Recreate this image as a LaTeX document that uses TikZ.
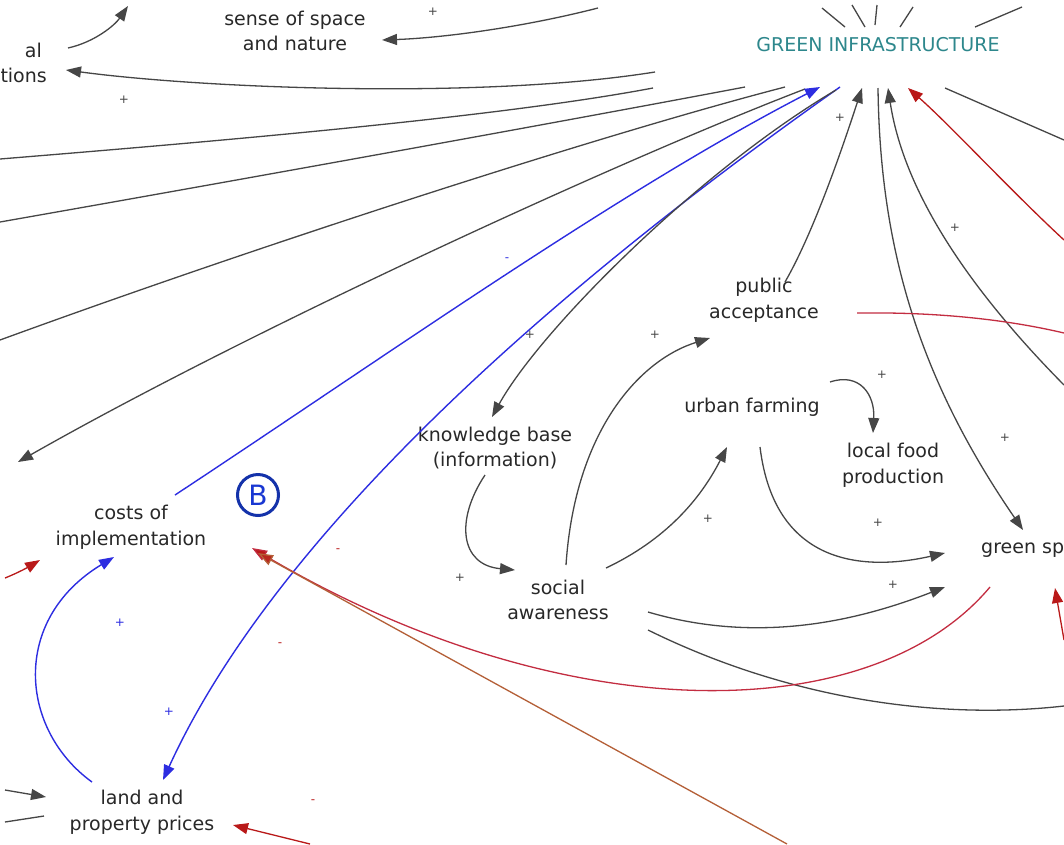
\documentclass[tikz,border=0pt]{standalone}
\usepackage{fontspec}
\setmainfont{DejaVu Sans}
\usetikzlibrary{arrows.meta,calc}
\definecolor{lg}{RGB}{70,70,70}
\definecolor{txt}{RGB}{40,40,40}
\definecolor{teal2}{RGB}{45,135,140}
\definecolor{blu}{RGB}{45,45,225}
\definecolor{redl}{RGB}{185,25,25}
\definecolor{crim}{RGB}{195,45,65}
\definecolor{brn}{RGB}{180,95,55}
\definecolor{bcirc}{RGB}{20,50,170}
\definecolor{bletter}{RGB}{25,55,210}
\tikzset{
  var/.style={font=\fontsize{19}{25.5}\selectfont, text=txt, inner sep=0pt, align=center},
  tip/.style={-{Triangle[length=15pt,width=11pt]}},
  gl/.style={draw=lg, line width=1.3pt},
  ga/.style={gl, tip},
  bl/.style={draw=blu, line width=1.4pt, tip},
  rl/.style={draw=redl, line width=1.3pt, tip},
  cl/.style={draw=crim, line width=1.3pt},
  pol/.style={font=\fontsize{12}{12}\selectfont, inner sep=0pt, text=lg},
  polb/.style={pol, text=blu},
  polr/.style={pol, text=redl}
}
\begin{document}
\begin{tikzpicture}[x=1pt,y=-1pt]
\fill[white] (0,0) rectangle (1064,844);
\useasboundingbox (0,0) rectangle (1064,844);

% variables
\node[var, text=teal2] (gi) at (878,45) {GREEN INFRASTRUCTURE};
\node[var] (sense) at (295,31) {sense of space\\and nature};
\node[var, align=right, anchor=east] (tions) at (47,63) {al\hspace*{5pt}\\tions};
\node[var] (pub) at (764,300) {public\\acceptance};
\node[var] (urb) at (752,407) {urban farming};
\node[var] (loc) at (893,465) {local food\\production};
\node[var] (kb) at (495,448) {knowledge base\\(information)};
\node[var] (costs) at (131,527) {costs of\\implementation};
\node[var] (soc) at (558,600) {social\\awareness};
\node[var, anchor=west] (green) at (981,550) {green sp};
\node[var] (land) at (142,812) {land and\\property prices};
\node[circle, draw=bcirc, line width=3pt, minimum size=41pt, inner sep=0pt,
      text=bletter, font=\fontsize{28}{28}\selectfont] (bn) at (258,495) {B};

% free ends
\coordinate (t1) at (128,6);
\coordinate (e2s) at (598,8);
\coordinate (la) at (0,159);
\coordinate (lb) at (0,222);
\coordinate (lc) at (0,340);
\coordinate (ld) at (18,462);
\coordinate (r14) at (1064,385);
\coordinate (r15) at (1064,240);
\coordinate (r16) at (1064,140);
\coordinate (r18) at (1064,333);
\coordinate (r25) at (1064,706);
\coordinate (b27) at (787,844);
\coordinate (b28) at (310,844);
\coordinate (l29) at (5,578);
\coordinate (l30) at (5,790);
\coordinate (l31) at (5,822);
\coordinate (r32) at (1064,640);
\coordinate (u1) at (822,8);
\coordinate (u2) at (852,5);
\coordinate (u3) at (877,5);
\coordinate (u4) at (913,7);
\coordinate (u5) at (1022,7);

% top radiating lines
\draw[gl] (u1) -- ($(gi)+(-33,-18)$);
\draw[gl] (u2) -- ($(gi)+(-13,-18)$);
\draw[gl] (u3) -- ($(gi)+(-3,-20)$);
\draw[gl] (u4) -- ($(gi)+(22,-18)$);
\draw[gl] (u5) -- ($(gi)+(97,-18)$);

% top-left
\draw[ga] ($(tions.east)+(21,-15)$) .. controls (95,42) and (115,25) .. (t1);
\draw[ga] (e2s) .. controls (520,28) and (440,38) .. ($(sense)+(87,9)$);
\draw[ga] ($(gi)+(-223,27)$) .. controls (480,100) and (200,88) .. ($(tions.east)+(19,7)$);

% fan of lines to the left
\draw[gl] ($(gi)+(-225,43)$) .. controls (500,117) and (220,141) .. (la);
\draw[gl] ($(gi)+(-133,42)$) .. controls (560,122) and (250,178) .. (lb);
\draw[gl] ($(gi)+(-93,42)$) .. controls (600,135) and (260,245) .. (lc);
\draw[ga] ($(gi)+(-73,44)$) .. controls (620,160) and (250,330) .. (ld);

% blue loop
\draw[bl] ($(costs)+(44,-32)$) .. controls (380,360) and (620,190) .. ($(gi)+(-58,42)$);
\draw[bl] ($(gi)+(-38,42)$) .. controls (680,200) and (300,480) .. ($(land)+(21,-32)$);
\draw[bl] ($(land)+(-50,-30)$) .. controls (20,730) and (10,620) .. ($(costs)+(-17,30)$);

% GI to knowledge base
\draw[ga] ($(gi)+(-42,45)$) .. controls (700,170) and (540,330) .. ($(kb)+(-3,-31)$);

% around GI (right)
\draw[ga] ($(pub)+(21,-18)$) .. controls (815,230) and (845,140) .. ($(gi)+(-16,43)$);
\draw[ga] ($(gi)+(0,43)$) .. controls (880,250) and (920,380) .. ($(green.west)+(42,-20)$);
\draw[ga] (r14) .. controls (980,300) and (905,200) .. ($(gi)+(10,43)$);
\draw[rl] (r15) .. controls (1010,190) and (950,125) .. ($(gi)+(30,43)$);
\draw[gl] ($(gi)+(67,43)$) -- (r16);
\draw[cl] ($(pub)+(93,13)$) .. controls (930,312) and (1000,318) .. (r18);

% middle
\draw[ga] ($(urb)+(78,-25)$) .. controls (860,372) and (875,395) .. ($(loc)+(-20,-32)$);
\draw[ga] ($(urb)+(8,40)$) .. controls (775,570) and (870,570) .. ($(green.west)+(-36,3)$);
\draw[ga] ($(soc)+(48,-32)$) .. controls (665,540) and (700,500) .. ($(urb)+(-25,40)$);
\draw[ga] ($(soc)+(8,-35)$) .. controls (575,430) and (640,360) .. ($(pub)+(-54,38)$);
\draw[ga] ($(kb)+(-10,27)$) .. controls (455,520) and (460,565) .. ($(soc)+(-43,-30)$);
\draw[ga] ($(soc)+(90,12)$) .. controls (760,645) and (860,620) .. ($(green.west)+(-36,37)$);
\draw[gl] ($(soc)+(90,30)$) .. controls (790,700) and (940,720) .. (r25);

% red links to costs
\draw[draw=crim, line width=1.3pt, -{Triangle[length=15pt,width=11pt,fill=redl]}]
  ($(green.west)+(9,37)$) .. controls (870,730) and (560,730) .. ($(costs)+(121,21)$);
\draw[draw=brn, line width=1.3pt, -{Triangle[length=15pt,width=11pt,fill=redl!80!brn]}]
  (b27) -- ($(costs)+(127,26)$);
\draw[rl] (b28) -- ($(land)+(91,13)$);
\draw[rl] (l29) .. controls (20,572) and (30,566) .. ($(costs)+(-91,33)$);
\draw[ga] (l30) -- ($(land)+(-96,-15)$);
\draw[gl] (l31) -- ($(land)+(-98,4)$);
\draw[rl] (r32) -- ($(green.west)+(74,38)$);

% polarity signs
\node[pol] (p1) at (433,12) {+};
\node[pol] (p2) at (124,100) {+};
\node[polb] (p3) at (507,260) {-};
\node[pol] (p4) at (530,335) {+};
\node[pol] (p5) at (655,335) {+};
\node[pol] (p6) at (840,118) {+};
\node[pol] (p7) at (955,228) {+};
\node[pol] (p8) at (882,375) {+};
\node[pol] (p9) at (1005,438) {+};
\node[pol] (p10) at (708,519) {+};
\node[pol] (p11) at (878,523) {+};
\node[pol] (p12) at (460,578) {+};
\node[pol] (p13) at (893,585) {+};
\node[polr] (p14) at (338,551) {-};
\node[polb] (p15) at (120,623) {+};
\node[polr] (p16) at (280,645) {-};
\node[polb] (p17) at (169,712) {+};
\node[polr] (p18) at (313,802) {-};
\end{tikzpicture}
\end{document}
